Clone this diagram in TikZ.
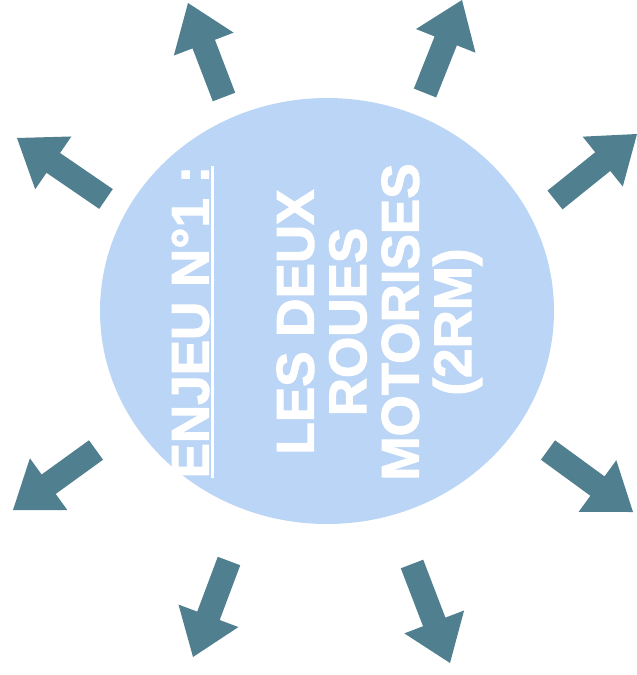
\documentclass[tikz,border=0pt]{standalone}
\usepackage{fontspec}
\usetikzlibrary{calc,shapes.geometric}
\newfontfamily\heavy[BoldFeatures={FakeBold=2}]{Liberation Sans}
\definecolor{discblue}{RGB}{187,213,246}
\definecolor{arrowteal}{RGB}{80,128,143}
\newcommand\ulrule[1]{\setbox0\hbox{#1}\rlap{\rule[-5pt]{\wd0}{3pt}}\box0}
\newcommand\blockarrow[2]{%
  \coordinate (hb) at ($(#2)!44pt!(#1)$);
  \fill[arrowstyle] ($(#1)!12pt!90:(#2)$) -- ($(hb)!12pt!90:(#2)$) -- ($(hb)!32pt!90:(#2)$) -- (#2)
     -- ($(hb)!32pt!-90:(#2)$) -- ($(hb)!12pt!-90:(#2)$) -- ($(#1)!12pt!-90:(#2)$) -- cycle;}
\tikzset{
  arrowstyle/.style={fill=arrowteal},
  discstyle/.style={ellipse, fill=discblue, draw=none, minimum width=454pt, minimum height=426pt, inner sep=0pt},
  labelstyle/.style={rotate=90, text=white, align=center, inner sep=0pt,
     font=\heavy\bfseries\fontsize{53}{52.5}\selectfont}
}
\begin{document}
\begin{tikzpicture}[x=1pt,y=-1pt]
\useasboundingbox[fill=white] (0,0) rectangle (637,675);
\node[discstyle] (disc) at (327,311) {};
\node[labelstyle] (label) at (327,322) {\ulrule{ENJEU N°1 :}\\[52.5pt]LES DEUX\\ROUES\\MOTORISES\\(2RM)};
% tails and tips
\coordinate (t1) at (224,97);  \coordinate (p1) at (188,3);
\coordinate (t2) at (425,93);  \coordinate (p2) at (462,0);
\coordinate (t3) at (106,199); \coordinate (p3) at (17,138);
\coordinate (t4) at (555,200); \coordinate (p4) at (637,134);
\coordinate (t5) at (96,450);  \coordinate (p5) at (13,510);
\coordinate (t6) at (548,450); \coordinate (p6) at (633,512);
\coordinate (t7) at (229,561); \coordinate (p7) at (193,657);
\coordinate (t8) at (412,564); \coordinate (p8) at (450,663);
\foreach \i in {1,...,8}{\blockarrow{t\i}{p\i}}
\end{tikzpicture}
\end{document}
